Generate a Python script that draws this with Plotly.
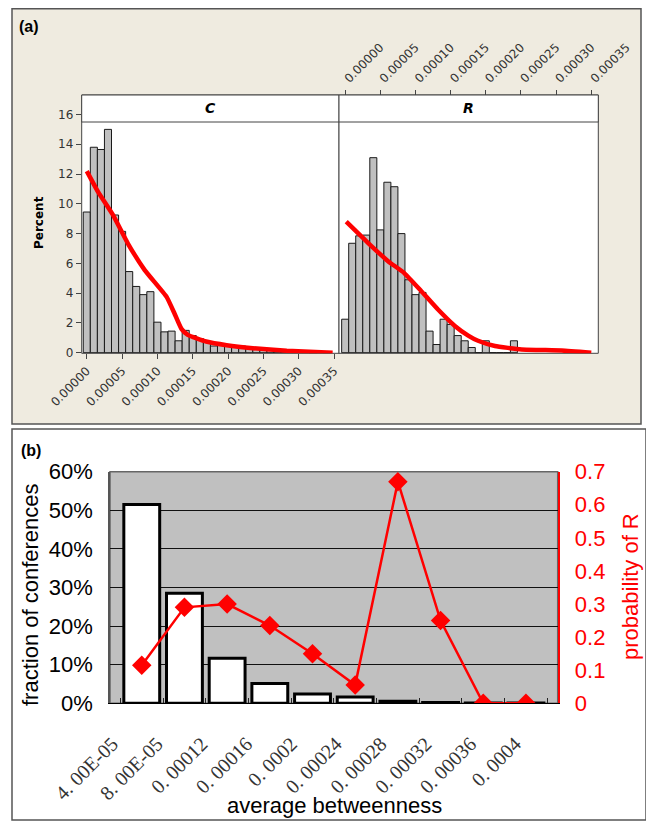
import plotly.graph_objects as go

# The page body has an 8px default margin: the figure is drawn 8px in from the
# top-left corner, so it is sized to the remaining window and coordinates below
# are given in window pixels.
OFF = 8
W, H = 654 - OFF, 823 - OFF
def px(x): return (x - OFF) / W
def py(y): return 1 - (y - OFF) / H

# ---------------- data ----------------
UNIT = 1e-5
# panel (a): histogram bins (centres in units of 1e-5) and percent heights
C_BINS = list(range(0, 35))
C_PCT = [9.45, 13.8, 13.65, 15.0, 9.25, 8.15, 5.45, 4.45, 3.9, 4.1,
         2.05, 1.4, 1.45, 0.8, 1.5, 1.15, 0.95, 0.75, 0.45, 0.6,
         0.5, 0.35, 0.45, 0.35, 0.25, 0.2, 0.15, 0.1, 0.1, 0.05,
         0.05, 0.05, 0.0, 0.05, 0.0]
R_BINS = list(range(0, 25))
R_PCT = [2.25, 7.35, 7.85, 7.9, 13.1, 8.25, 11.45, 11.15, 8.0, 4.9,
         3.9, 4.05, 1.45, 0.55, 2.25, 1.9, 1.15, 0.8, 0.35, 0.0,
         0.8, 0.0, 0.0, 0.0, 0.8]
C_FIT_X = [0, 1.6, 3.7, 5.8, 8.2, 11.3, 12.4, 13.4, 14.3, 16.9, 19.8, 23.5, 28.3, 34.8]
C_FIT_Y = [12.2, 10.8, 9.25, 7.35, 5.55, 3.75, 2.65, 1.6, 1.2, 0.75, 0.5, 0.3, 0.13, 0.0]
R_FIT_X = [0.15, 3.2, 6.1, 8.4, 10.8, 13.2, 15.6, 17.5, 18.9, 21.3, 25.1, 30.8, 35.0]
R_FIT_Y = [8.8, 7.4, 6.15, 5.35, 4.15, 2.9, 1.8, 1.15, 0.8, 0.45, 0.22, 0.15, 0.0]
A_TICKS = [0.0, 0.00005, 0.0001, 0.00015, 0.0002, 0.00025, 0.0003, 0.00035]

# panel (b)
B_CATS = ["4. 00E-05", "8. 00E-05", "0. 00012", "0. 00016", "0. 0002",
          "0. 00024", "0. 00028", "0. 00032", "0. 00036", "0. 0004"]
B_FRACTION = [0.515, 0.285, 0.117, 0.051, 0.024, 0.016, 0.005, 0.002, 0.001, 0.0005]
B_PROB_R = [0.115, 0.29, 0.30, 0.235, 0.15, 0.055, 0.67, 0.25, 0.0, 0.0]

# ---------------- figure ----------------
fig = go.Figure()

fig.add_trace(go.Bar(x=[b * UNIT for b in C_BINS], y=C_PCT, width=UNIT,
                     marker=dict(color="#C0C0C0", line=dict(color="#1a1a1a", width=1)),
                     xaxis="x", yaxis="y", showlegend=False))
fig.add_trace(go.Scatter(x=[v * UNIT for v in C_FIT_X], y=C_FIT_Y, mode="lines",
                         line=dict(color="#FF0000", width=4.5, shape="spline", smoothing=0.4),
                         xaxis="x", yaxis="y", showlegend=False))
fig.add_trace(go.Bar(x=[b * UNIT for b in R_BINS], y=R_PCT, width=UNIT,
                     marker=dict(color="#C0C0C0", line=dict(color="#1a1a1a", width=1)),
                     xaxis="x2", yaxis="y2", showlegend=False))
fig.add_trace(go.Scatter(x=[v * UNIT for v in R_FIT_X], y=R_FIT_Y, mode="lines",
                         line=dict(color="#FF0000", width=4.5, shape="spline", smoothing=0.4),
                         xaxis="x2", yaxis="y2", showlegend=False))

fig.add_trace(go.Bar(x=B_CATS, y=B_FRACTION,
                     marker=dict(color="white", line=dict(color="black", width=3)),
                     xaxis="x3", yaxis="y3", showlegend=False))
fig.add_trace(go.Scatter(x=B_CATS, y=B_PROB_R, mode="lines+markers",
                         line=dict(color="#FF0000", width=2.5),
                         marker=dict(symbol="diamond", size=15, color="#FF0000"),
                         xaxis="x3", yaxis="y4", showlegend=False))
# invisible companion trace so that the label axis (x4) is drawn
fig.add_trace(go.Scatter(x=list(range(len(B_CATS))), y=B_FRACTION, mode="markers",
                         marker=dict(opacity=0, size=1), hoverinfo="skip",
                         xaxis="x4", yaxis="y3", showlegend=False))

afont = dict(family="DejaVu Sans", size=12, color="#333333")
ydom = [py(353.3), py(95)]
common_ax = dict(tickvals=A_TICKS, tickformat=".5f", tickangle=-45, ticks="outside",
                 ticklen=5, tickcolor="#444", showgrid=False, zeroline=False,
                 showline=False, tickfont=afont, automargin=False)
bdom_x = [px(110), px(557.7)]
bdom_y = [py(703.3), py(471.7)]
CLEAR = "rgba(0,0,0,0)"

fig.update_layout(
    template="none",
    width=W, height=H, margin=dict(l=0, r=0, t=0, b=0, pad=0, autoexpand=False),
    paper_bgcolor="white", plot_bgcolor="rgba(0,0,0,0)", bargap=0.16,
    xaxis=dict(domain=[px(81.7), px(339)], range=[-0.72 * UNIT, 35.7 * UNIT],
               anchor="y", **common_ax),
    yaxis=dict(domain=ydom, range=[-0.04, 17.31], tickvals=list(range(0, 17, 2)),
               ticks="outside", ticklen=5, tickcolor="#444", showgrid=False,
               zeroline=False, showline=False, automargin=False,
               tickfont=dict(family="DejaVu Sans", size=12, color="#333")),
    xaxis2=dict(domain=[px(339), px(598.3)], range=[-0.88 * UNIT, 36 * UNIT],
                anchor="free", position=py(95), side="top", **common_ax),
    yaxis2=dict(domain=ydom, range=[-0.04, 17.31], anchor="x2", showticklabels=False,
                ticks="", showgrid=False, zeroline=False, showline=False, automargin=False),
    # panel (b) category axis: boundary ticks only
    xaxis3=dict(domain=bdom_x, anchor="y3", type="category",
                ticks="inside", tickson="boundaries", ticklen=5, tickcolor="#222",
                showline=True, linecolor="black", linewidth=1, showticklabels=False,
                showgrid=False, zeroline=False, automargin=False),
    # panel (b) tick labels (category index axis, labels set slightly left/down like Excel)
    xaxis4=dict(overlaying="x3", anchor="y3", side="bottom", range=[-0.05, 9.95],
                tickvals=list(range(len(B_CATS))), ticktext=B_CATS, tickangle=-45,
                ticks="outside", ticklen=20, tickcolor=CLEAR, showline=False,
                showgrid=False, zeroline=False, automargin=False,
                tickfont=dict(family="Liberation Serif", size=20, color="#333")),
    yaxis3=dict(domain=bdom_y, range=[0, 0.6], dtick=0.1, tickformat=".0%",
                ticks="outside", ticklen=11, tickcolor=CLEAR, showline=True, linecolor="#555",
                linewidth=1.5, showgrid=True, gridcolor="#111", gridwidth=1, zeroline=False,
                anchor="x3", automargin=False,
                tickfont=dict(family="Liberation Sans", size=22, color="black")),
    yaxis4=dict(overlaying="y3", side="right", anchor="x3", range=[0, 0.7], dtick=0.1,
                ticks="outside", ticklen=11, tickcolor=CLEAR, showline=True,
                linecolor="#FF0000", linewidth=1.5, showgrid=False, zeroline=False,
                automargin=False,
                tickfont=dict(family="Liberation Sans", size=22, color="#FF0000")),
    yaxis5=dict(overlaying="y3", side="right", anchor="x3", range=[0, 0.7], dtick=0.1,
                ticks="inside", ticklen=6, tickcolor="#FF0000", showticklabels=False,
                showline=False, showgrid=False, zeroline=False, automargin=False),
)

shapes = [
    # panel (a) frame
    dict(type="rect", xref="paper", yref="paper", x0=px(12), x1=px(641), y0=py(424), y1=py(8.7),
         fillcolor="#EFEBE0", line=dict(color="#555", width=1.5), layer="below"),
    # panel (b) frame
    dict(type="rect", xref="paper", yref="paper", x0=px(12), x1=px(646), y0=py(820), y1=py(429),
         fillcolor="white", line=dict(color="#555", width=1.5), layer="below"),
    # C and R plot areas
    dict(type="rect", xref="paper", yref="paper", x0=px(81.7), x1=px(339), y0=py(353.3), y1=py(95),
         fillcolor="white", line=dict(color="#444", width=1), layer="below"),
    dict(type="rect", xref="paper", yref="paper", x0=px(339), x1=px(598.3), y0=py(353.3), y1=py(95),
         fillcolor="white", line=dict(color="#444", width=1), layer="below"),
    # strips
    dict(type="rect", xref="paper", yref="paper", x0=px(81.7), x1=px(339), y0=py(122), y1=py(95),
         fillcolor="white", line=dict(color="#444", width=1), layer="below"),
    dict(type="rect", xref="paper", yref="paper", x0=px(339), x1=px(598.3), y0=py(122), y1=py(95),
         fillcolor="white", line=dict(color="#444", width=1), layer="below"),
    # panel (b) plot background
    dict(type="rect", xref="paper", yref="paper", x0=px(110), x1=px(557.7), y0=py(703.3), y1=py(471.7),
         fillcolor="#C0C0C0", line=dict(color="#666", width=1.5), layer="below"),
]
fig.update_layout(shapes=shapes)

ann = [
    dict(text="<b>(a)</b>", x=px(17), y=py(27), xanchor="left", yanchor="middle",
         font=dict(family="Liberation Sans", size=16, color="black")),
    dict(text="<b>(b)</b>", x=px(19), y=py(450), xanchor="left", yanchor="middle",
         font=dict(family="Liberation Sans", size=16, color="black")),
    dict(text="<b><i>C</i></b>", x=px(210.3), y=py(108.5), xanchor="center", yanchor="middle",
         font=dict(family="DejaVu Sans", size=14, color="black")),
    dict(text="<b><i>R</i></b>", x=px(468.6), y=py(108.5), xanchor="center", yanchor="middle",
         font=dict(family="DejaVu Sans", size=14, color="black")),
    dict(text="<b>Percent</b>", x=px(39), y=py(223), textangle=-90, xanchor="center", yanchor="middle",
         font=dict(family="DejaVu Sans", size=12, color="black")),
    dict(text="fraction of conferences", x=px(30), y=py(595), textangle=-90,
         xanchor="center", yanchor="middle",
         font=dict(family="Liberation Sans", size=22, color="black")),
    dict(text="probability of R", x=px(630), y=py(587), textangle=-90,
         xanchor="center", yanchor="middle",
         font=dict(family="Liberation Sans", size=22, color="#FF0000")),
    dict(text="average betweenness", x=px(334), y=py(805), xanchor="center", yanchor="middle",
         font=dict(family="Liberation Sans", size=22, color="black")),
]
for a in ann:
    a.update(xref="paper", yref="paper", showarrow=False)
fig.update_layout(annotations=ann)

fig.write_html("out.html")
